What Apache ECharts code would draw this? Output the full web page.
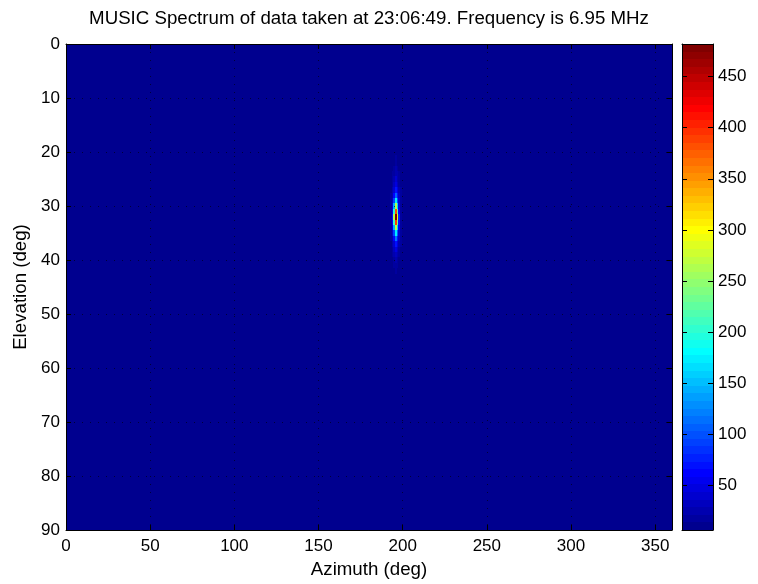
<!DOCTYPE html>
<html>
<head>
<meta charset="utf-8">
<script src="https://cdn.jsdelivr.net/npm/echarts@6/dist/echarts.min.js"></script>
<style>
  html, body { margin: 0; padding: 0; background: #fff; }
  #chart { width: 758px; height: 584px; }
</style>
</head>
<body>
<div id="chart"></div>
<script>
// chart text
const titleText = 'MUSIC Spectrum of data taken at 23:06:49. Frequency is 6.95 MHz';
const xName = 'Azimuth (deg)';
const yName = 'Elevation (deg)';

// axes
const azimuthRange = [0, 360];
const elevationRange = [0, 90];
const azimuthTicks = [0, 50, 100, 150, 200, 250, 300, 350];
const colorRange = [6, 482];
const colorbarTicks = [50, 100, 150, 200, 250, 300, 350, 400, 450];

// spectrum: flat floor everywhere except one peak
const floorLevel = 6;
const peakAzimuths = [192, 193, 194, 195, 196, 197, 198, 199, 200];
const peakElevations = [20, 21, 22, 23, 24, 25, 26, 27, 28, 29, 30, 31, 32,
                        33, 34, 35, 36, 37, 38, 39, 40, 41, 42, 43, 44];
const peakValues = [
    [6, 7, 8, 10, 12, 10, 8, 7, 6],
    [6, 7, 9, 11, 14, 11, 9, 7, 6],
    [7, 8, 10, 13, 17, 13, 10, 8, 7],
    [7, 9, 12, 16, 21, 16, 12, 9, 7],
    [8, 10, 14, 20, 27, 21, 14, 10, 8],
    [8, 11, 16, 25, 36, 27, 17, 11, 8],
    [9, 12, 19, 32, 50, 35, 20, 12, 9],
    [9, 13, 22, 42, 72, 46, 24, 14, 9],
    [10, 14, 27, 60, 110, 66, 30, 15, 10],
    [10, 15, 34, 90, 170, 100, 38, 17, 10],
    [10, 16, 45, 140, 260, 155, 50, 18, 10],
    [10, 17, 58, 205, 380, 225, 64, 19, 10],
    [10, 18, 66, 260, 482, 290, 75, 20, 10],
    [10, 17, 60, 210, 390, 235, 66, 19, 10],
    [10, 16, 48, 145, 270, 160, 52, 18, 10],
    [10, 15, 36, 95, 175, 105, 40, 17, 10],
    [9, 14, 28, 62, 112, 68, 31, 15, 9],
    [9, 13, 22, 42, 72, 45, 24, 14, 9],
    [8, 12, 18, 30, 48, 32, 19, 12, 8],
    [8, 11, 15, 23, 34, 24, 16, 11, 8],
    [7, 10, 13, 18, 25, 19, 13, 10, 7],
    [7, 9, 11, 14, 19, 15, 11, 9, 7],
    [6, 8, 9, 12, 15, 12, 9, 8, 6],
    [6, 7, 8, 10, 12, 10, 8, 7, 6],
    [6, 7, 7, 9, 10, 9, 7, 7, 6]
];

// matlab jet(m)
function jet(m) {
    const n = Math.ceil(m / 4);
    const u = [];
    for (let i = 1; i <= n; i++) u.push(i / n);
    for (let i = 1; i < n; i++) u.push(1);
    for (let i = n; i >= 1; i--) u.push(i / n);
    const g0 = Math.ceil(n / 2) - (m % 4 === 1 ? 1 : 0);
    const J = [];
    for (let i = 0; i < m; i++) J.push([0, 0, 0]);
    u.forEach((val, k) => {
        const g = g0 + k + 1, r = g + n, b = g - n;
        if (r >= 1 && r <= m) J[r - 1][0] = val;
        if (g >= 1 && g <= m) J[g - 1][1] = val;
        if (b >= 1 && b <= m) J[b - 1][2] = val;
    });
    return J.map(c => 'rgb(' + c.map(x => Math.round(x * 255)).join(',') + ')');
}
const palette = jet(64);
function colorOf(v) {
    const t = (v - colorRange[0]) / (colorRange[1] - colorRange[0]);
    return palette[Math.max(0, Math.min(63, Math.floor(t * 64)))];
}

// grid cells, 1 deg each
const cells = [];
for (let az = azimuthRange[0]; az <= azimuthRange[1]; az++) {
    for (let el = elevationRange[0]; el <= elevationRange[1]; el++) {
        let v = floorLevel;
        const i = peakElevations.indexOf(el), j = peakAzimuths.indexOf(az);
        if (i >= 0 && j >= 0) v = peakValues[i][j];
        cells.push([az, el, v]);
    }
}

const bandStep = (colorRange[1] - colorRange[0]) / palette.length;
const bands = palette.map((c, i) => [i]);

const font = 'Liberation Sans, Arial, Helvetica, sans-serif';
const black = '#000';
const gridLine = { show: true, lineStyle: { color: 'rgba(0,0,0,0.6)', width: 1, type: [1, 7] } };

function boxAxis(extra) {
    return Object.assign({
        type: 'value',
        axisLine: { show: true, onZero: false, lineStyle: { color: black, width: 1 } },
        axisTick: { show: true, inside: true, length: 5, lineStyle: { color: black } },
        axisLabel: { show: false },
        splitLine: { show: false }
    }, extra);
}

// pixel-snapped rect so neighbouring cells leave no seams
function snapRect(p0, p1) {
    const x0 = Math.round(Math.min(p0[0], p1[0])), x1 = Math.round(Math.max(p0[0], p1[0]));
    const y0 = Math.round(Math.min(p0[1], p1[1])), y1 = Math.round(Math.max(p0[1], p1[1]));
    return { x: x0, y: y0, width: x1 - x0, height: y1 - y0 };
}

const chart = echarts.init(document.getElementById('chart'), null, { renderer: 'canvas' });

chart.setOption({
    animation: false,
    backgroundColor: '#fff',
    graphic: [{
        type: 'text',
        x: 369, y: 19,
        style: {
            text: titleText, font: '18.7px ' + font, fill: black,
            align: 'center', verticalAlign: 'middle'
        }
    }],
    grid: [
        { left: 66, top: 44, width: 606, height: 486 },
        { left: 682, top: 44, width: 31, height: 486 }
    ],
    xAxis: [
        boxAxis({
            gridIndex: 0, position: 'bottom',
            min: azimuthRange[0], max: azimuthRange[1],
            axisTick: { show: true, inside: true, length: 5, customValues: azimuthTicks, lineStyle: { color: black } },
            axisLabel: { show: true, color: black, fontSize: 17, fontFamily: font, margin: 8, customValues: azimuthTicks },
            splitLine: gridLine,
            name: xName, nameLocation: 'middle', nameGap: 28,
            nameTextStyle: { color: black, fontSize: 18.7, fontFamily: font }
        }),
        boxAxis({
            gridIndex: 0, position: 'top', min: azimuthRange[0], max: azimuthRange[1],
            axisTick: { show: true, inside: true, length: 5, customValues: azimuthTicks, lineStyle: { color: black } }
        }),
        boxAxis({ gridIndex: 1, position: 'bottom', min: 0, max: 1, axisTick: { show: false } }),
        boxAxis({ gridIndex: 1, position: 'top', min: 0, max: 1, axisTick: { show: false } })
    ],
    yAxis: [
        boxAxis({
            gridIndex: 0, position: 'left', inverse: true,
            min: elevationRange[0], max: elevationRange[1], interval: 10,
            axisLabel: { show: true, color: black, fontSize: 17, fontFamily: font, margin: 6 },
            splitLine: gridLine,
            name: yName, nameLocation: 'middle', nameGap: 36,
            nameTextStyle: { color: black, fontSize: 18.7, fontFamily: font }
        }),
        boxAxis({ gridIndex: 0, position: 'right', inverse: true, min: elevationRange[0], max: elevationRange[1], interval: 10 }),
        boxAxis({
            gridIndex: 1, position: 'right', min: colorRange[0], max: colorRange[1],
            axisTick: { show: true, inside: true, length: 5, customValues: colorbarTicks, lineStyle: { color: black } },
            axisLabel: { show: true, color: black, fontSize: 17, fontFamily: font, margin: 5, customValues: colorbarTicks }
        }),
        boxAxis({
            gridIndex: 1, position: 'left', min: colorRange[0], max: colorRange[1],
            axisTick: { show: true, inside: true, length: 5, customValues: colorbarTicks, lineStyle: { color: black } }
        })
    ],
    series: [
        {
            type: 'custom',
            xAxisIndex: 0, yAxisIndex: 0,
            z: -1,
            clip: true,
            silent: true,
            progressive: 0,
            data: cells,
            renderItem: function (params, api) {
                const az = api.value(0), el = api.value(1);
                const rect = echarts.graphic.clipRectByRect(
                    snapRect(api.coord([az - 0.5, el - 0.5]), api.coord([az + 0.5, el + 0.5])),
                    params.coordSys);
                if (!rect || rect.width <= 0 || rect.height <= 0) return;
                return { type: 'rect', shape: rect, style: { fill: colorOf(api.value(2)) } };
            }
        },
        {
            type: 'custom',
            xAxisIndex: 2, yAxisIndex: 2,
            z: -1,
            silent: true,
            data: bands,
            renderItem: function (params, api) {
                const i = api.value(0);
                const lo = colorRange[0] + i * bandStep, hi = lo + bandStep;
                return {
                    type: 'rect',
                    shape: snapRect(api.coord([0, lo]), api.coord([1, hi])),
                    style: { fill: palette[i] }
                };
            }
        }
    ]
});
</script>
</body>
</html>
